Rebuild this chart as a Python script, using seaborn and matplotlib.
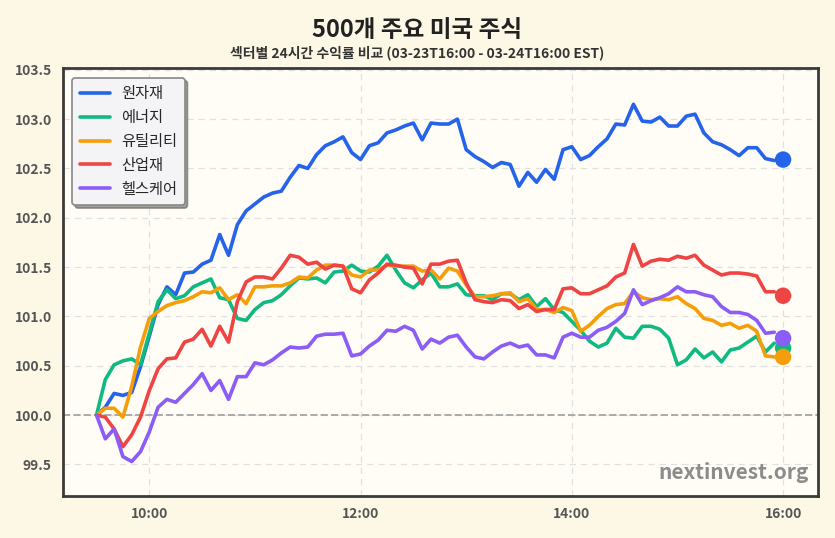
import numpy as np
import pandas as pd
import matplotlib
matplotlib.use("Agg")
import matplotlib.pyplot as plt
import matplotlib.dates as mdates
import seaborn as sns

# ---- data ----
sectors = ["원자재", "에너지", "유틸리티", "산업재", "헬스케어"]
colors = ["#2563eb", "#10b981", "#f59e0b", "#ef4444", "#8b5cf6"]

materials = [100.0, 100.08, 100.22, 100.20, 100.23, 100.49, 100.80, 101.12, 101.30, 101.22,
             101.44, 101.45, 101.53, 101.57, 101.83, 101.62, 101.93, 102.07, 102.14, 102.21,
             102.25, 102.27, 102.41, 102.53, 102.50, 102.64, 102.73, 102.77, 102.82, 102.66,
             102.59, 102.73, 102.76, 102.86, 102.89, 102.93, 102.96, 102.79, 102.96, 102.95,
             102.95, 103.00, 102.69, 102.62, 102.57, 102.51, 102.56, 102.54, 102.32, 102.46,
             102.36, 102.49, 102.39, 102.69, 102.72, 102.59, 102.63, 102.72, 102.80, 102.95,
             102.94, 103.15, 102.98, 102.97, 103.02, 102.93, 102.93, 103.03, 103.05, 102.86,
             102.77, 102.74, 102.69, 102.63, 102.71, 102.71, 102.60, 102.58]
energy = [100.0, 100.36, 100.51, 100.55, 100.57, 100.51, 100.83, 101.15, 101.27, 101.18,
          101.21, 101.30, 101.34, 101.38, 101.19, 101.17, 100.98, 100.96, 101.07, 101.14,
          101.16, 101.22, 101.31, 101.39, 101.38, 101.39, 101.34, 101.45, 101.46, 101.52,
          101.46, 101.45, 101.51, 101.62, 101.47, 101.34, 101.29, 101.37, 101.44, 101.30,
          101.30, 101.33, 101.22, 101.21, 101.21, 101.17, 101.23, 101.23, 101.17, 101.22,
          101.10, 101.18, 101.07, 101.04, 100.95, 100.86, 100.75, 100.69, 100.73, 100.88,
          100.79, 100.78, 100.90, 100.90, 100.87, 100.78, 100.51, 100.56, 100.67, 100.58,
          100.64, 100.54, 100.66, 100.68, 100.74, 100.80, 100.64, 100.73]
utilities = [100.0, 100.07, 100.07, 99.98, 100.29, 100.69, 100.98, 101.05, 101.11, 101.14,
             101.16, 101.20, 101.25, 101.24, 101.29, 101.17, 101.22, 101.13, 101.30, 101.30,
             101.31, 101.31, 101.34, 101.40, 101.39, 101.47, 101.52, 101.52, 101.51, 101.42,
             101.40, 101.47, 101.47, 101.52, 101.51, 101.51, 101.51, 101.46, 101.47, 101.38,
             101.49, 101.46, 101.32, 101.20, 101.20, 101.21, 101.23, 101.24, 101.15, 101.18,
             101.07, 101.07, 101.04, 101.09, 101.06, 100.85, 100.91, 101.00, 101.08, 101.12,
             101.13, 101.25, 101.19, 101.17, 101.18, 101.17, 101.20, 101.13, 101.08, 100.98,
             100.96, 100.91, 100.93, 100.88, 100.91, 100.85, 100.60, 100.59]
industrials = [100.0, 99.98, 99.86, 99.68, 99.80, 99.98, 100.25, 100.47, 100.57, 100.58,
               100.74, 100.77, 100.87, 100.70, 100.90, 100.74, 101.15, 101.35, 101.40, 101.40,
               101.38, 101.49, 101.62, 101.60, 101.53, 101.55, 101.48, 101.52, 101.51, 101.28,
               101.24, 101.37, 101.44, 101.53, 101.52, 101.50, 101.49, 101.33, 101.53, 101.53,
               101.56, 101.57, 101.34, 101.17, 101.15, 101.14, 101.17, 101.16, 101.08, 101.12,
               101.05, 101.07, 101.07, 101.28, 101.29, 101.23, 101.23, 101.27, 101.31, 101.40,
               101.44, 101.73, 101.51, 101.56, 101.58, 101.57, 101.61, 101.59, 101.62, 101.52,
               101.47, 101.42, 101.44, 101.44, 101.43, 101.41, 101.25, 101.25]
healthcare = [100.0, 99.76, 99.86, 99.58, 99.53, 99.63, 99.83, 100.08, 100.16, 100.13,
              100.22, 100.31, 100.42, 100.25, 100.35, 100.16, 100.39, 100.39, 100.53, 100.51,
              100.56, 100.63, 100.69, 100.68, 100.69, 100.80, 100.82, 100.82, 100.83, 100.60,
              100.62, 100.70, 100.76, 100.86, 100.85, 100.90, 100.86, 100.67, 100.77, 100.73,
              100.79, 100.81, 100.69, 100.59, 100.57, 100.64, 100.70, 100.73, 100.69, 100.71,
              100.61, 100.61, 100.58, 100.79, 100.83, 100.79, 100.79, 100.86, 100.89, 100.95,
              101.03, 101.27, 101.12, 101.16, 101.19, 101.23, 101.30, 101.25, 101.25, 101.22,
              101.20, 101.10, 101.04, 101.04, 101.02, 100.96, 100.83, 100.84]
final_values = [102.59, 100.68, 100.59, 101.21, 100.78]
series = [materials, energy, utilities, industrials, healthcare]

title = "500개 주요 미국 주식"
subtitle = "섹터별 24시간 수익률 비교 (03-23T16:00 - 03-24T16:00 EST)"
y_ticks = [99.5, 100.0, 100.5, 101.0, 101.5, 102.0, 102.5, 103.0, 103.5]

times = pd.date_range("2025-03-24 09:30", periods=len(materials), freq="5min")
final_time = pd.Timestamp("2025-03-24 16:00")

rows = []
for name, vals in zip(sectors, series):
    for t, v in zip(times, vals):
        rows.append({"time": t, "value": v, "sector": name})
df = pd.DataFrame(rows)
df_final = pd.DataFrame({"time": [final_time] * len(sectors), "value": final_values, "sector": sectors})

# ---- style ----
sns.set_style("white")
plt.rcParams["font.family"] = ["Noto Sans CJK KR", "DejaVu Sans"]

fig = plt.figure(figsize=(8.35, 5.38), dpi=100, facecolor="#fdf8e6")
ax = fig.add_axes([0.0755, 0.078, 0.9045, 0.796])
ax.set_facecolor("#fffdf6")

palette = dict(zip(sectors, colors))
sns.lineplot(data=df, x="time", y="value", hue="sector", palette=palette,
             linewidth=2.6, ax=ax, zorder=3)
sns.scatterplot(data=df_final, x="time", y="value", hue="sector", palette=palette,
                s=140, edgecolor="none", ax=ax, legend=False, zorder=4)

ax.axhline(100.0, color="#aaaaaa", linestyle="--", linewidth=1.4, zorder=2)

ax.set_ylim(99.18, 103.52)
ax.set_xlim(pd.Timestamp("2025-03-24 09:11"), pd.Timestamp("2025-03-24 16:20"))
ax.set_yticks(y_ticks)
ax.set_yticklabels([f"{v:.1f}" for v in y_ticks])
ax.set_xticks([pd.Timestamp(f"2025-03-24 {h}:00") for h in (10, 12, 14, 16)])
ax.xaxis.set_major_formatter(mdates.DateFormatter("%H:%M"))
ax.set_xlabel("")
ax.set_ylabel("")

ax.grid(True, linestyle=(0, (5, 4)), color="#e0e0e0", linewidth=0.9, zorder=0)
ax.set_axisbelow(True)
for s in ax.spines.values():
    s.set_color("#3a3a3a")
    s.set_linewidth(2.0)
ax.tick_params(axis="both", which="major", length=4, width=1, color="#3a3a3a",
               labelsize=10, labelcolor="#555555", pad=4)
for lab in ax.get_xticklabels() + ax.get_yticklabels():
    lab.set_fontweight("bold")

leg = ax.legend(loc="upper left", fontsize=11, frameon=True, fancybox=True, shadow=True,
                handlelength=2.0, handletextpad=0.7, borderpad=0.5, labelspacing=0.45,
                bbox_to_anchor=(0.002, 0.995))
leg.get_frame().set_facecolor("#f4f4f6")
leg.get_frame().set_edgecolor("#888888")
leg.get_frame().set_linewidth(1.2)
for line in leg.get_lines():
    line.set_linewidth(2.6)

fig.text(0.5, 0.945, title, ha="center", va="center", fontsize=17, fontweight="bold", color="#222222")
fig.text(0.5, 0.902, subtitle, ha="center", va="center", fontsize=10, fontweight="bold", color="#333333")

ax.text(0.988, 0.03, "nextinvest.org", transform=ax.transAxes, ha="right", va="bottom",
        fontsize=15, fontweight="bold", color="#8c8c8c", zorder=5)

fig.savefig("out.png", dpi=100, facecolor=fig.get_facecolor())
